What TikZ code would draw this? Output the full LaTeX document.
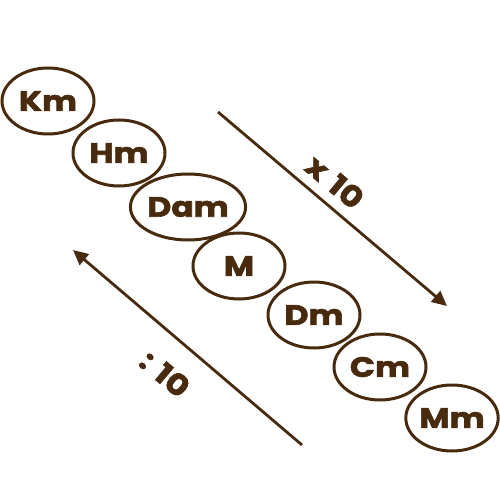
\documentclass[tikz,border=0pt]{standalone}
\usepackage{fontspec}
\setmainfont{Poppins}
\newfontfamily\heavy{Poppins}[BoldFeatures={FakeBold=2.2,FakeStretch=1.18}]
\usetikzlibrary{shapes.geometric,arrows.meta}
\definecolor{brn}{RGB}{72,42,14}
\begin{document}
\begin{tikzpicture}[x=1pt,y=-1pt,
  unit/.style={ellipse,draw=brn,line width=3pt,minimum width=92pt,minimum height=66pt,inner sep=0pt,
    text=brn,font=\heavy\fontsize{28}{28}\selectfont\bfseries},
  conv/.style={draw=brn,line width=2.8pt,-{Triangle[length=15pt,width=14pt]}},
  lab/.style={text=brn,font=\heavy\fontsize{29}{29}\selectfont\bfseries,rotate=-40,inner sep=0pt}]
\useasboundingbox (0,0) rectangle (500,500);
\node[unit] (km) at (48,101) {Km};
\node[unit] (hm) at (119,153) {Hm};
\node[unit] (dam) at (188,207) {Dam};
\node[unit] (m) at (239,266) {M};
\node[unit] (dm) at (314,315) {Dm};
\node[unit] (cm) at (380,367) {Cm};
\node[unit] (mm) at (452,418) {Mm};
\coordinate (a1s) at (218,112);
\coordinate (a1e) at (447,306);
\coordinate (a2s) at (302,445);
\coordinate (a2e) at (73,250);
\draw[conv] (a1s) -- (a1e);
\draw[conv] (a2s) -- (a2e);
\node[lab] (x10) at (335,182) {x\,\,10};
\node[lab] (d10) at (165,374) {:\,\,10};
\end{tikzpicture}
\end{document}
